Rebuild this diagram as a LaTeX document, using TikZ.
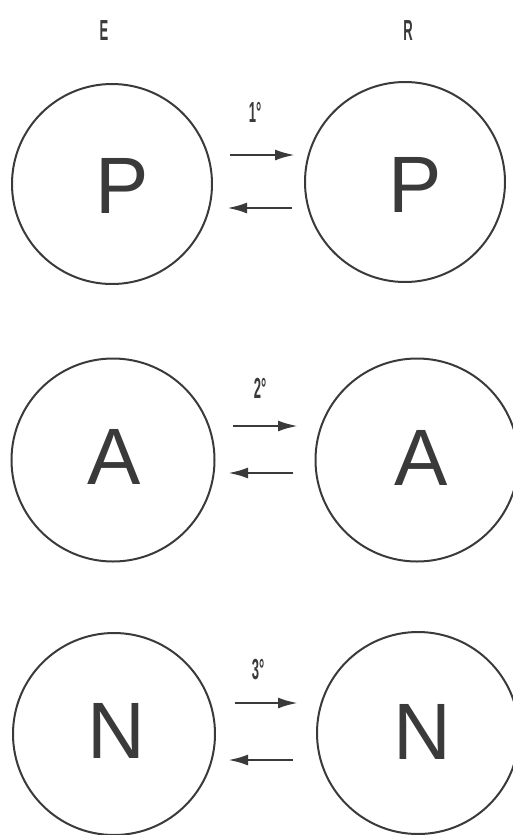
\documentclass[tikz,border=0pt]{standalone}
\usepackage{fontspec}
\setmainfont{Liberation Sans}
\usetikzlibrary{arrows.meta}
\definecolor{ink}{HTML}{3A3A3A}
\begin{document}
\begin{tikzpicture}[x=1pt,y=-1pt,
  ring/.style={circle,draw=ink,line width=2pt,inner sep=0pt},
  letter/.style={text=ink,font=\fontsize{80}{80}\selectfont,inner sep=0pt},
  tag/.style={text=ink,font=\bfseries\fontsize{29}{29}\selectfont,xscale=0.45,inner sep=0pt},
  flow/.style={draw=ink,line width=2.6pt,-{Latex[length=20pt,width=11pt]}}]
\useasboundingbox (0,0) rectangle (513,835);
% column headers
\node[tag] (hE) at (104,31) {E};
\node[tag] (hR) at (408,31) {R};
% row 1
\node[ring,minimum size=200pt] (pL) at (112,184) {};
\node[ring,minimum size=200pt] (pR) at (405,182) {};
\node[letter] (tpL) at (122,186) {P};
\node[letter] (tpR) at (415,185) {P};
\node[tag] (l1) at (255,112) {1°};
\coordinate (p1a) at (230,155); \coordinate (p1b) at (295,155);
\coordinate (p2a) at (292,208); \coordinate (p2b) at (227,208);
\draw[flow] (p1a) -- (p1b);
\draw[flow] (p2a) -- (p2b);
% row 2
\node[ring,minimum size=203pt] (aL) at (113,460) {};
\node[ring,minimum size=203pt] (aR) at (417,460) {};
\node[letter] (taL) at (114,457) {A};
\node[letter] (taR) at (421,458) {A};
\node[tag] (l2) at (260,388) {2°};
\coordinate (a1a) at (233,426); \coordinate (a1b) at (298,426);
\coordinate (a2a) at (293,473); \coordinate (a2b) at (228,473);
\draw[flow] (a1a) -- (a1b);
\draw[flow] (a2a) -- (a2b);
% row 3
\node[ring,minimum size=202pt] (nL) at (114,734) {};
\node[ring,minimum size=202pt] (nR) at (418,733) {};
\node[letter] (tnL) at (116,731) {N};
\node[letter] (tnR) at (422,732) {N};
\node[tag] (l3) at (258,670) {3°};
\coordinate (n1a) at (235,703); \coordinate (n1b) at (298,703);
\coordinate (n2a) at (293,760); \coordinate (n2b) at (228,760);
\draw[flow] (n1a) -- (n1b);
\draw[flow] (n2a) -- (n2b);
\end{tikzpicture}
\end{document}
